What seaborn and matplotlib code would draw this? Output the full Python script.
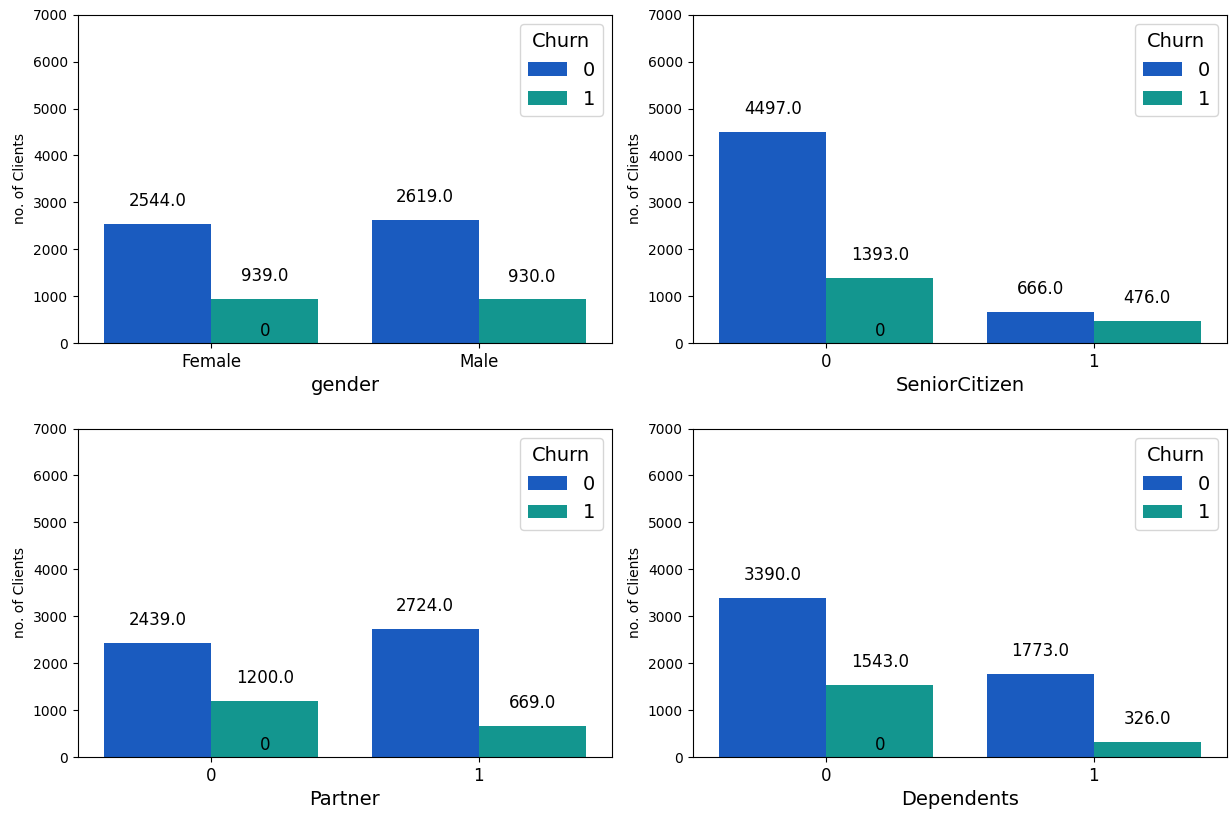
import numpy as np
import pandas as pd
import seaborn as sns
import matplotlib.pyplot as plt

features = ["gender", "SeniorCitizen", "Partner", "Dependents"]
categories = [["Female", "Male"], ["0", "1"], ["0", "1"], ["0", "1"]]
churn0 = [[2544, 2619], [4497, 666], [2439, 2724], [3390, 1773]]
churn1 = [[939, 930], [1393, 476], [1200, 669], [1543, 326]]
colors = ["#1a5bbf", "#13968f"]

fig, axes = plt.subplots(2, 2, figsize=(12.31, 8.14), dpi=100)
for ax, feat, cats, c0, c1 in zip(axes.flat, features, categories, churn0, churn1):
    df = pd.DataFrame({
        feat: cats * 2,
        "Churn": ["0"] * len(cats) + ["1"] * len(cats),
        "count": c0 + c1,
    })
    sns.barplot(data=df, x=feat, y="count", hue="Churn", palette=colors,
                ax=ax, width=0.8, saturation=1)
    for p in ax.patches:
        h = p.get_height()
        if h > 0:
            ax.annotate(f"{float(h)}", (p.get_x() + p.get_width() / 2, h),
                        xytext=(0, 10), textcoords="offset points",
                        ha="center", va="bottom", fontsize=12)
    ax.text(0.2, 250, "0", ha="center", va="center", fontsize=12)
    ax.set_ylim(0, 7000)
    ax.set_ylabel("no. of Clients", fontsize=10)
    ax.set_xlabel(feat, fontsize=14)
    ax.tick_params(axis="x", labelsize=12)
    ax.tick_params(axis="y", labelsize=10)
    ax.legend(title="Churn", fontsize=14, title_fontsize=14, loc="upper right")

fig.subplots_adjust(left=0.063, right=0.997, top=0.982, bottom=0.07,
                    wspace=0.15, hspace=0.26)
fig.savefig("out.png", dpi=100)
